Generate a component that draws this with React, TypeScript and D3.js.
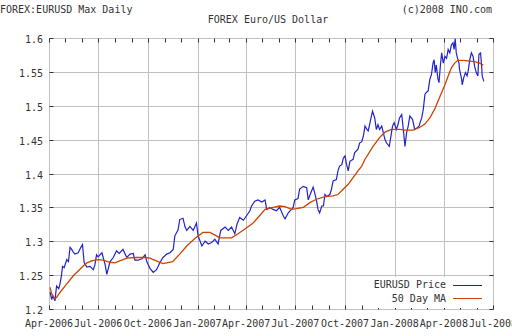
import React from "react";
import * as d3 from "d3";

const priceDates: string[] = [
  "2006-04-03","2006-04-06","2006-04-08","2006-04-12","2006-04-15","2006-04-19","2006-04-21","2006-04-24","2006-04-26","2006-04-29",
  "2006-05-04","2006-05-07","2006-05-10","2006-05-13","2006-05-16","2006-05-19","2006-05-25","2006-05-30","2006-06-02","2006-06-05",
  "2006-06-10","2006-06-16","2006-06-22","2006-06-25","2006-06-28","2006-07-01","2006-07-08","2006-07-14","2006-07-17","2006-07-23",
  "2006-07-29","2006-08-04","2006-08-09","2006-08-16","2006-08-23","2006-08-29","2006-09-04","2006-09-07","2006-09-13","2006-09-20",
  "2006-09-26","2006-09-29","2006-10-05","2006-10-11","2006-10-17","2006-10-23","2006-10-29","2006-11-05","2006-11-11","2006-11-17",
  "2006-11-20","2006-11-26","2006-11-29","2006-12-05","2006-12-09","2006-12-12","2006-12-18","2006-12-24","2006-12-30","2007-01-02",
  "2007-01-09","2007-01-15","2007-01-21","2007-01-27","2007-02-02","2007-02-08","2007-02-13","2007-02-21","2007-02-27","2007-03-05",
  "2007-03-11","2007-03-15","2007-03-20","2007-03-27","2007-04-02","2007-04-08","2007-04-11","2007-04-17","2007-04-23","2007-04-30",
  "2007-05-06","2007-05-09","2007-05-15","2007-05-21","2007-05-27","2007-06-02","2007-06-09","2007-06-12","2007-06-18","2007-06-24",
  "2007-06-27","2007-06-30","2007-07-06","2007-07-09","2007-07-16","2007-07-22","2007-07-25","2007-07-28","2007-08-03","2007-08-06",
  "2007-08-09","2007-08-12","2007-08-15","2007-08-19","2007-08-22","2007-08-25","2007-08-28","2007-09-03","2007-09-06","2007-09-09",
  "2007-09-15","2007-09-18","2007-09-21","2007-09-25","2007-09-28","2007-10-01","2007-10-04","2007-10-07","2007-10-10","2007-10-16",
  "2007-10-19","2007-10-25","2007-10-28","2007-11-01","2007-11-04","2007-11-07","2007-11-10","2007-11-13","2007-11-19","2007-11-21",
  "2007-11-25","2007-11-28","2007-12-01","2007-12-04","2007-12-08","2007-12-11","2007-12-14","2007-12-17","2007-12-22","2007-12-24",
  "2007-12-28","2007-12-31","2008-01-04","2008-01-07","2008-01-10","2008-01-14","2008-01-17","2008-01-20","2008-01-23","2008-01-26",
  "2008-01-29","2008-02-03","2008-02-07","2008-02-11","2008-02-15","2008-02-20","2008-02-23","2008-02-26","2008-02-29","2008-03-03",
  "2008-03-06","2008-03-09","2008-03-12","2008-03-14","2008-03-16","2008-03-18","2008-03-21","2008-03-23","2008-03-26","2008-03-28",
  "2008-03-31","2008-04-03","2008-04-06","2008-04-09","2008-04-12","2008-04-15","2008-04-18","2008-04-20","2008-04-22","2008-04-24",
  "2008-04-26","2008-04-29","2008-04-30","2008-05-04","2008-05-05","2008-05-08","2008-05-11","2008-05-14","2008-05-16","2008-05-19",
  "2008-05-22","2008-05-25","2008-05-28","2008-05-31","2008-06-03","2008-06-05","2008-06-08","2008-06-10","2008-06-11","2008-06-14"
];

const priceValues: number[] = [
  1.225,1.214,1.220,1.212,1.234,1.230,1.236,1.249,1.263,1.261,
  1.273,1.270,1.291,1.288,1.284,1.281,1.283,1.291,1.295,1.269,
  1.262,1.263,1.258,1.265,1.280,1.277,1.283,1.265,1.251,1.270,
  1.276,1.286,1.282,1.288,1.276,1.281,1.282,1.272,1.272,1.274,
  1.280,1.270,1.260,1.254,1.258,1.268,1.276,1.281,1.283,1.288,
  1.308,1.317,1.332,1.334,1.321,1.316,1.322,1.316,1.327,1.308,
  1.293,1.300,1.296,1.298,1.303,1.296,1.316,1.321,1.316,1.321,
  1.311,1.325,1.335,1.331,1.338,1.345,1.352,1.359,1.361,1.358,
  1.361,1.347,1.350,1.347,1.345,1.350,1.337,1.333,1.342,1.347,
  1.350,1.361,1.363,1.377,1.381,1.379,1.361,1.368,1.380,1.371,
  1.361,1.347,1.342,1.352,1.352,1.369,1.366,1.369,1.377,1.389,
  1.391,1.404,1.411,1.413,1.423,1.426,1.413,1.404,1.418,1.421,
  1.431,1.436,1.445,1.447,1.455,1.470,1.466,1.463,1.485,1.492,
  1.482,1.465,1.472,1.465,1.470,1.460,1.450,1.445,1.440,1.450,
  1.470,1.475,1.465,1.472,1.482,1.487,1.465,1.440,1.460,1.470,
  1.485,1.480,1.465,1.467,1.470,1.482,1.495,1.517,1.520,1.522,
  1.539,1.546,1.563,1.568,1.549,1.560,1.540,1.534,1.563,1.578,
  1.563,1.573,1.570,1.583,1.578,1.590,1.593,1.583,1.599,1.578,
  1.571,1.563,1.554,1.539,1.531,1.542,1.549,1.544,1.551,1.568,
  1.578,1.573,1.558,1.549,1.544,1.576,1.578,1.558,1.544,1.536
];

const maDates: string[] = [
  "2006-04-03","2006-04-06","2006-04-11","2006-04-15","2006-04-21","2006-05-01","2006-05-16","2006-05-25","2006-06-03","2006-06-10",
  "2006-06-19","2006-07-01","2006-07-10","2006-07-23","2006-08-01","2006-08-10","2006-08-23","2006-09-10","2006-09-26","2006-10-05",
  "2006-10-11","2006-10-29","2006-11-16","2006-11-29","2006-12-12","2006-12-27","2007-01-11","2007-01-24","2007-02-05","2007-02-11",
  "2007-03-05","2007-03-17","2007-04-02","2007-04-14","2007-04-23","2007-05-06","2007-05-15","2007-06-02","2007-06-12","2007-06-24",
  "2007-07-03","2007-07-16","2007-07-28","2007-08-09","2007-08-25","2007-09-09","2007-09-18","2007-09-28","2007-10-07","2007-10-16",
  "2007-10-25","2007-11-01","2007-11-07","2007-11-22","2007-12-04","2007-12-14","2007-12-26","2008-01-10","2008-01-20","2008-02-04",
  "2008-02-16","2008-02-26","2008-03-06","2008-03-15","2008-03-24","2008-04-03","2008-04-09","2008-04-15","2008-04-21","2008-04-27",
  "2008-05-07","2008-05-19","2008-05-28","2008-06-06","2008-06-13"
];

const maValues: number[] = [
  1.232,1.222,1.216,1.217,1.224,1.234,1.249,1.256,1.263,1.268,
  1.271,1.273,1.272,1.269,1.268,1.271,1.275,1.276,1.276,1.275,
  1.273,1.267,1.270,1.281,1.293,1.304,1.313,1.313,1.308,1.305,
  1.305,1.311,1.320,1.327,1.335,1.347,1.349,1.352,1.351,1.347,
  1.348,1.350,1.357,1.362,1.366,1.367,1.369,1.377,1.384,1.394,
  1.404,1.411,1.421,1.440,1.453,1.461,1.465,1.465,1.464,1.464,
  1.468,1.473,1.482,1.495,1.512,1.531,1.544,1.556,1.563,1.567,
  1.567,1.566,1.565,1.563,1.560
];

const yTicks: number[] = [1.2, 1.25, 1.3, 1.35, 1.4, 1.45, 1.5, 1.55, 1.6];
const xTickLabels: string[] = [
  "Apr-2006","Jul-2006","Oct-2006","Jan-2007","Apr-2007","Jul-2007","Oct-2007","Jan-2008","Apr-2008","Jul-2008"
];
const xTickDates: string[] = [
  "2006-04-01","2006-07-01","2006-10-01","2007-01-01","2007-04-01","2007-07-01","2007-10-01","2008-01-01","2008-04-01","2008-07-01"
];

const W = 512, H = 336;
const L = 49, R = 493, T = 38, B = 309;
const FONT = "'DejaVu Sans Mono', monospace";
const TXT = "#333";
const GRID = "#c0c0c0";
const TICK = "#333";
const BLUE = "#2222cc";
const ORANGE = "#cc4400";

export default function App() {
  const parse = d3.timeParse("%Y-%m-%d");
  const x = d3.scaleTime()
    .domain([parse("2006-04-01") as Date, parse("2008-07-01") as Date])
    .range([L, R]);
  const y = d3.scaleLinear().domain([1.2, 1.6]).range([B, T]);
  const px = (v: number) => Math.round(v) + 0.5;

  const price = priceDates.map((d, i) => ({ d: parse(d) as Date, v: priceValues[i] }));
  const ma = maDates.map((d, i) => ({ d: parse(d) as Date, v: maValues[i] }));
  const line = d3.line<{ d: Date; v: number }>().x(p => x(p.d)).y(p => y(p.v));

  const months = d3.timeMonth.range(parse("2006-04-01") as Date, d3.timeDay.offset(parse("2008-07-01") as Date, 1));
  const qDates = xTickDates.map(s => parse(s) as Date);

  return (
    <svg width={W} height={H} viewBox={`0 0 ${W} ${H}`}
      style={{ position: "absolute", left: 0, top: 0, display: "block", background: "#fff" }}>
      <rect x={0} y={0} width={W} height={H} fill="#fff" />
      {/* header texts */}
      <text x={0} y={13} fontFamily={FONT} fontSize={10} fill={TXT}>FOREX:EURUSD Max Daily</text>
      <text x={492} y={13} fontFamily={FONT} fontSize={10} fill={TXT} textAnchor="end">(c)2008 INO.com</text>
      <text x={268} y={23} fontFamily={FONT} fontSize={10} fill={TXT} textAnchor="middle">FOREX Euro/US Dollar</text>

      {/* grid */}
      {yTicks.map(t => (
        <line key={"gy" + t} x1={L} x2={R} y1={px(y(t))} y2={px(y(t))} stroke={GRID} strokeWidth={1} />
      ))}
      {qDates.map((d, i) => (
        <line key={"gx" + i} x1={px(x(d))} x2={px(x(d))} y1={T} y2={B} stroke={GRID} strokeWidth={1} />
      ))}

      {/* ticks */}
      {months.map((m, i) => (
        <g key={"mt" + i}>
          <line x1={px(x(m))} x2={px(x(m))} y1={px(B)} y2={px(B) - 4} stroke={TICK} />
          <line x1={px(x(m))} x2={px(x(m))} y1={px(T)} y2={px(T) + 4} stroke={TICK} />
        </g>
      ))}
      {yTicks.map(t => (
        <g key={"yt" + t}>
          <line x1={px(L)} x2={px(L) + 4} y1={px(y(t))} y2={px(y(t))} stroke={TICK} />
          <line x1={px(R)} x2={px(R) - 4} y1={px(y(t))} y2={px(y(t))} stroke={TICK} />
        </g>
      ))}

      {/* y labels */}
      {yTicks.map(t => (
        <text key={"yl" + t} x={43} y={px(y(t)) + 4} fontFamily={FONT} fontSize={10} fill={TXT} textAnchor="end">
          {String(t)}
        </text>
      ))}
      {/* x labels */}
      {qDates.map((d, i) => (
        <text key={"xl" + i} x={x(d)} y={327} fontFamily={FONT} fontSize={10} fill={TXT} textAnchor="middle">
          {xTickLabels[i]}
        </text>
      ))}

      {/* series */}
      <path d={line(price) || ""} fill="none" stroke={BLUE} strokeWidth={1.2} strokeLinejoin="miter" />
      <path d={line(ma) || ""} fill="none" stroke={ORANGE} strokeWidth={1.3} />

      {/* legend */}
      <rect x={372} y={277} width={120} height={31} fill="#fff" />
      <text x={446} y={288} fontFamily={FONT} fontSize={10} fill={TXT} textAnchor="end">EURUSD Price</text>
      <line x1={453} x2={482} y1={285.5} y2={285.5} stroke={BLUE} strokeWidth={1} />
      <text x={446} y={302} fontFamily={FONT} fontSize={10} fill={TXT} textAnchor="end">50 Day MA</text>
      <line x1={453} x2={482} y1={298.5} y2={298.5} stroke={ORANGE} strokeWidth={1} />
    </svg>
  );
}
